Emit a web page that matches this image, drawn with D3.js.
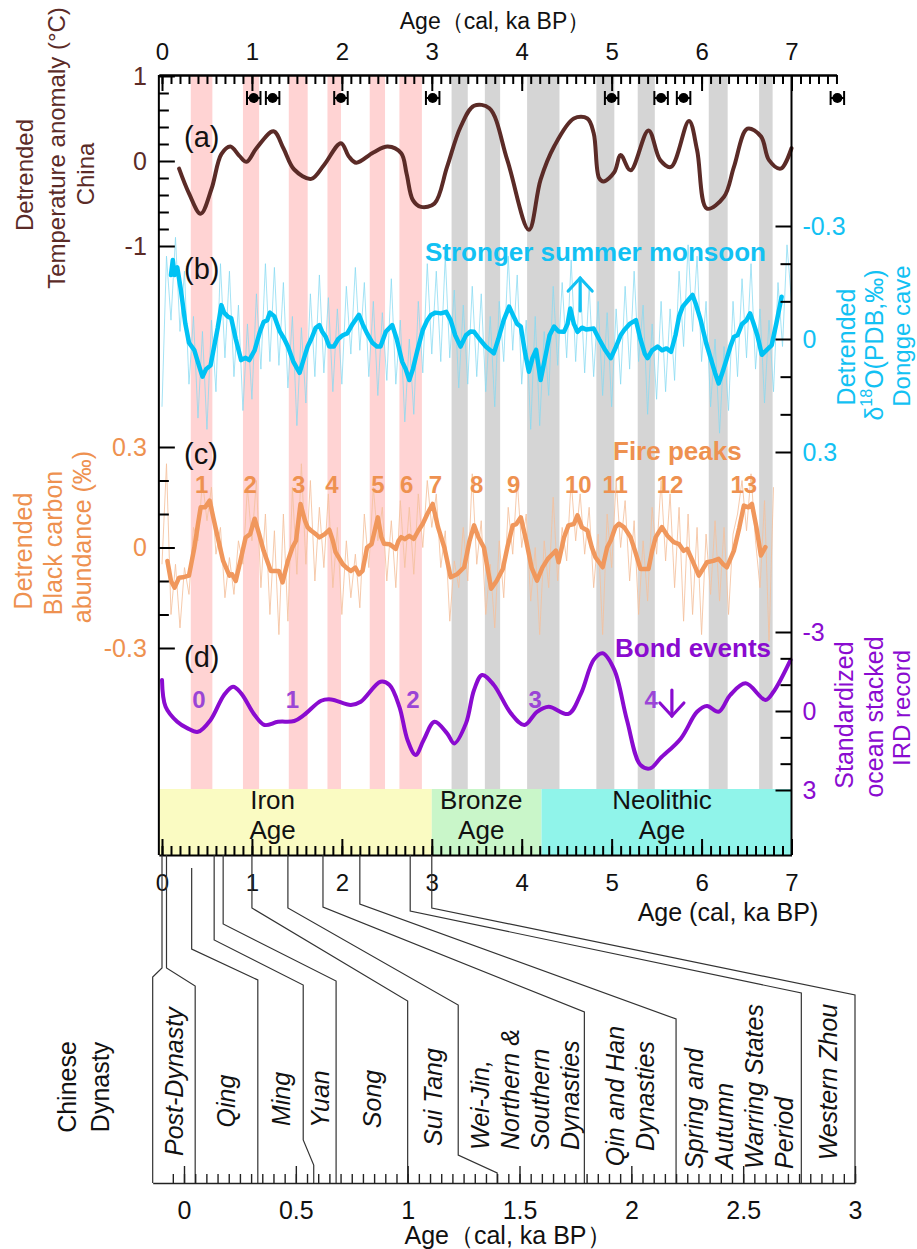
<!DOCTYPE html>
<html><head><meta charset="utf-8">
<script src="https://cdn.jsdelivr.net/npm/d3@7"></script>
<style>
html,body{margin:0;padding:0;background:#fff;}
svg{display:block;font-family:"Liberation Sans",Arial,Helvetica,sans-serif;}
</style></head><body>
<svg id="chart" width="917" height="1249"></svg>
<script>
// ---------- data (ages in ka BP) ----------
const warmBands = [[0.32,0.56],[0.90,1.08],[1.41,1.62],[1.84,1.99],[2.31,2.48],[2.64,2.89]];
const coolBands = [[3.22,3.40],[3.59,3.76],[4.06,4.42],[4.83,5.03],[5.29,5.48],[6.08,6.29],[6.64,6.79]];
const agePeriods = ["Iron Age","Bronze Age","Neolithic Age"];
const agePeriodBounds = [[-0.035,3.0],[3.0,4.22],[4.22,7.0]];

const datingAges = [1.02,1.23,1.99,3.01,5.0,5.55,5.8,7.51];
const datingErr  = [0.075,0.075,0.075,0.075,0.075,0.075,0.075,0.075];

// (a) detrended temperature anomaly, China (°C)
const tempAge = [0.19,0.30,0.43,0.55,0.66,0.76,0.86,0.94,1.05,1.24,1.35,1.47,1.66,1.80,1.99,2.08,2.16,2.35,2.51,2.66,2.72,2.79,2.88,3.03,3.17,3.32,3.47,3.64,3.84,4.08,4.21,4.36,4.58,4.73,4.80,4.86,4.91,5.03,5.10,5.21,5.41,5.54,5.66,5.86,5.95,6.06,6.25,6.36,6.51,6.66,6.75,6.88,7.00];
const tempVal = [-0.09,-0.38,-0.62,-0.33,0.08,0.17,0.06,-0.01,0.15,0.35,0.15,-0.10,-0.21,-0.05,0.21,0.05,-0.02,0.10,0.17,0.09,-0.15,-0.46,-0.54,-0.50,-0.07,0.40,0.65,0.62,0.01,-0.81,-0.22,0.17,0.50,0.50,0.33,-0.20,-0.24,-0.13,0.07,-0.11,0.36,0.01,-0.07,0.47,0.13,-0.56,-0.42,-0.07,0.38,0.29,0.01,-0.09,0.15];

// (b) detrended δ18O, Dongge cave (‰): raw record (0.05 ka step from 0) and running mean
const monsoonRawStep = 0.05;
const monsoonRaw = [0.18,-0.22,-0.05,-0.27,-0.02,-0.18,0.12,-0.06,0.21,-0.02,0.24,-0.05,0.14,-0.2,0.05,-0.18,0.1,-0.09,0.19,-0.04,
 0.16,-0.12,0.08,-0.2,0.06,-0.19,0.07,-0.15,0.13,-0.06,0.23,-0.03,0.17,-0.12,0.1,-0.17,0.09,-0.11,0.14,-0.08,
 0.12,-0.14,0.04,-0.19,0.03,-0.15,0.1,-0.1,0.15,-0.07,0.11,-0.16,0.12,-0.05,0.22,0.0,0.2,-0.1,0.09,-0.2,
 0.04,-0.18,0.06,-0.22,0.05,-0.13,0.13,-0.09,0.12,-0.14,0.1,-0.12,0.14,-0.06,0.18,-0.1,0.06,-0.22,0.03,-0.17,
 0.12,-0.05,0.24,-0.06,0.23,-0.02,0.15,-0.14,0.07,-0.15,0.05,-0.21,0.06,-0.16,0.09,-0.14,0.1,-0.1,0.15,-0.07,
 0.18,-0.08,0.12,-0.14,0.08,-0.18,0.06,-0.09,0.2,-0.04,0.16,-0.1,0.14,-0.08,0.11,-0.18,0.02,-0.25,-0.02,-0.22,
 0.06,-0.1,0.18,0.0,0.25,0.02,0.19,-0.1,0.1,-0.16,0.05,-0.2,0.08,-0.08,0.17,-0.05,0.14,-0.15,0.02,-0.25,-0.1];
const monsoonAge = [0.10,0.12,0.14,0.17,0.21,0.26,0.30,0.36,0.41,0.45,0.49,0.54,0.58,0.62,0.66,0.69,0.73,0.77,0.82,0.88,0.93,0.97,1.03,1.09,1.13,1.17,1.20,1.25,1.31,1.36,1.40,1.46,1.53,1.58,1.62,1.66,1.71,1.75,1.78,1.82,1.86,1.91,1.96,2.01,2.06,2.12,2.19,2.23,2.28,2.34,2.39,2.43,2.49,2.56,2.61,2.67,2.71,2.75,2.79,2.84,2.90,2.95,2.99,3.04,3.10,3.16,3.21,3.26,3.32,3.38,3.43,3.47,3.53,3.60,3.65,3.69,3.74,3.80,3.86,3.91,3.95,3.99,4.04,4.08,4.12,4.16,4.21,4.26,4.31,4.36,4.41,4.47,4.51,4.54,4.58,4.62,4.67,4.72,4.80,4.86,4.93,4.99,5.05,5.10,5.14,5.20,5.27,5.32,5.37,5.40,5.45,5.51,5.56,5.61,5.66,5.71,5.75,5.79,5.84,5.90,5.94,5.99,6.05,6.10,6.15,6.19,6.23,6.27,6.32,6.36,6.40,6.45,6.50,6.54,6.58,6.62,6.67,6.72,6.78,6.83,6.89];
const monsoonVal = [-0.17,-0.21,-0.17,-0.19,-0.13,-0.04,0.01,0.03,0.07,0.10,0.08,0.07,0.02,-0.03,-0.09,-0.07,-0.06,-0.055,0.0,0.056,0.05,0.056,0.03,-0.02,-0.045,-0.05,-0.07,-0.06,-0.02,0.0,0.02,0.06,0.09,0.05,0.02,0.0,-0.03,-0.037,-0.02,-0.006,0.02,0.02,0.0,-0.01,-0.015,-0.04,-0.064,-0.04,-0.015,0.01,0.02,0.02,-0.02,-0.037,0.0,0.06,0.08,0.109,0.08,0.03,-0.024,-0.05,-0.064,-0.07,-0.068,-0.072,-0.05,-0.01,0.02,-0.01,-0.02,-0.019,0.0,0.02,0.03,0.038,0.0,-0.05,-0.086,-0.06,-0.04,-0.033,0.04,0.087,0.05,0.029,0.109,0.05,-0.01,-0.033,-0.02,-0.019,-0.04,-0.081,-0.04,-0.019,-0.03,-0.025,-0.028,0.0,0.03,0.051,0.02,-0.01,-0.024,-0.04,-0.05,0.0,0.04,0.051,0.03,0.02,0.03,0.025,0.034,-0.01,-0.06,-0.086,-0.1,-0.117,-0.09,-0.05,0.01,0.05,0.09,0.118,0.09,0.06,0.02,-0.006,-0.01,-0.04,-0.05,-0.068,-0.04,-0.01,0.042,0.03,0.016,-0.04,-0.112];

// (c) detrended black carbon abundance (‰): raw record (0.05 ka step from 0) and running mean
const carbonRawStep = 0.05;
const carbonRaw = [-0.05,0.25,-0.2,-0.05,-0.24,-0.06,-0.14,0.06,0.02,0.2,0.08,0.18,-0.02,0.06,-0.15,-0.03,-0.14,0.02,-0.05,0.18,
 0.02,0.2,-0.12,0.1,-0.2,0.05,-0.26,0.1,-0.22,0.18,-0.08,0.25,-0.05,0.2,-0.1,0.12,-0.06,0.16,-0.12,0.06,
 -0.2,0.02,-0.15,-0.02,-0.18,0.1,-0.06,0.18,0.02,0.12,-0.1,0.08,-0.12,0.14,-0.06,0.12,-0.08,0.16,0.0,0.2,
 0.06,0.16,-0.06,0.05,-0.22,-0.04,-0.12,0.06,-0.1,0.22,-0.05,0.08,-0.2,-0.05,-0.24,0.02,-0.15,0.12,-0.02,0.2,
 0.0,0.1,-0.16,0.0,-0.26,0.02,-0.12,0.15,-0.1,0.06,-0.04,0.2,0.02,0.16,-0.02,0.12,-0.12,0.04,-0.26,0.1,
 -0.06,0.2,0.0,0.14,-0.1,0.08,-0.2,0.02,-0.16,0.12,-0.02,0.2,-0.04,0.16,-0.12,0.12,-0.22,0.1,-0.2,0.06,
 -0.26,0.04,-0.14,0.08,-0.16,0.06,-0.2,0.04,0.1,0.2,0.05,0.22,0.02,-0.12,0.14,-0.28,0.18];
const carbonAge = [0.06,0.10,0.14,0.19,0.23,0.30,0.36,0.40,0.43,0.48,0.53,0.57,0.62,0.68,0.75,0.78,0.82,0.88,0.93,0.98,1.03,1.08,1.13,1.17,1.21,1.25,1.30,1.34,1.40,1.45,1.49,1.54,1.59,1.62,1.66,1.71,1.75,1.81,1.86,1.90,1.93,2.01,2.05,2.10,2.15,2.19,2.23,2.28,2.33,2.40,2.44,2.47,2.53,2.60,2.63,2.66,2.70,2.75,2.80,2.85,2.90,2.95,3.01,3.07,3.14,3.21,3.28,3.36,3.42,3.47,3.52,3.58,3.66,3.72,3.79,3.84,3.90,3.94,3.99,4.05,4.11,4.17,4.23,4.29,4.34,4.38,4.41,4.47,4.52,4.58,4.62,4.67,4.73,4.78,4.82,4.90,4.95,4.99,5.04,5.08,5.14,5.21,5.26,5.32,5.41,5.45,5.49,5.56,5.62,5.69,5.75,5.80,5.84,5.90,5.97,6.06,6.13,6.19,6.24,6.28,6.36,6.42,6.47,6.52,6.56,6.61,6.66,6.71];
const carbonVal = [-0.04,-0.10,-0.12,-0.09,-0.089,-0.084,0.0,0.07,0.12,0.12,0.14,0.09,0.03,-0.04,-0.084,-0.08,-0.1,-0.03,0.03,0.04,0.086,0.04,-0.01,-0.04,-0.07,-0.07,-0.07,-0.104,-0.04,0.0,0.02,0.13,0.08,0.06,0.05,0.04,0.03,0.04,0.053,0.02,-0.014,-0.05,-0.06,-0.07,-0.06,-0.08,-0.07,0.0,0.01,0.09,0.03,0.011,0.01,-0.004,0.02,0.031,0.025,0.035,0.026,0.05,0.071,0.1,0.13,0.06,0.0,-0.089,-0.08,-0.059,0.02,0.066,0.03,0.0,-0.123,-0.1,-0.064,0.0,0.066,0.07,0.09,0.02,-0.06,-0.099,-0.06,-0.034,-0.02,-0.009,-0.044,0.03,0.066,0.07,0.096,0.06,0.051,0.0,-0.029,-0.059,0.0,0.021,0.06,0.071,0.06,0.031,-0.01,-0.064,-0.064,-0.01,0.031,0.061,0.035,0.016,0.01,-0.01,-0.004,-0.04,-0.084,-0.044,-0.04,-0.034,-0.05,-0.059,-0.009,0.06,0.125,0.12,0.13,0.06,-0.024,0.001];

// (d) standardized ocean stacked IRD record
const irdAge = [0.0,0.04,0.17,0.28,0.40,0.54,0.69,0.79,0.88,1.03,1.14,1.29,1.47,1.58,1.77,1.88,2.10,2.21,2.43,2.53,2.64,2.73,2.82,2.91,3.03,3.17,3.25,3.38,3.47,3.56,3.69,3.88,4.03,4.17,4.30,4.52,4.66,4.80,4.90,5.03,5.17,5.32,5.43,5.54,5.77,5.95,6.06,6.19,6.32,6.49,6.71,6.80,6.99];
const irdVal = [-1.18,-0.16,0.41,0.65,0.79,0.34,-0.61,-0.92,-0.67,0.15,0.53,0.41,0.38,0.15,-0.39,-0.44,-0.23,-0.35,-1.11,-0.99,-0.16,1.10,1.67,1.10,0.41,0.85,1.23,0.47,-0.80,-1.37,-0.99,0.09,0.53,0.03,-0.16,0.11,-0.67,-1.94,-2.19,-1.56,0.34,2.05,2.18,1.80,1.04,0.03,-0.19,0.03,-0.61,-1.05,-0.42,-0.73,-1.94];

const firePeakLabels = ["1","2","3","4","5","6","7","8","9","10","11","12","13"];
const firePeakAges = [0.44,0.98,1.52,1.89,2.40,2.72,3.04,3.50,3.91,4.63,5.04,5.65,6.47];
const bondLabels = ["0","1","2","3","4"];
const bondAges = [0.41,1.45,2.79,4.15,5.44];

// Chinese dynasties: names and older boundary of each (ka BP)
const dynastyLines = [["Post-Dynasty"],["Qing"],["Ming"],["Yuan"],["Song"],["Sui Tang"],
  ["Wei-Jin,","Northern &","Southern","Dynasties"],["Qin and Han","Dynasties"],
  ["Spring and","Autumn","Warring States","Period"],["Western Zhou"]];
const dynastyBounds = [0, 0.05,0.33,0.58,0.68,1.0,1.4,1.79,2.2,2.76,3.0];

// ---------- layout ----------
const svg = d3.select("#chart");
const F = "Liberation Sans, Arial, sans-serif";
const C = {brown:"#5b2b27", cyan:"#12c1f3", cyanLine:"#00c2f4", cyanRaw:"#86d9f2",
  orange:"#ee9150", orangeLine:"#f0975c", orangeRaw:"#f4c19e", purple:"#8a0bd0", purpleNum:"#9b45d6",
  pink:"#ffd3d3", gray:"#d5d5d5", periods:["#fafbc2","#c9f6c9","#90f4ea"]};

const X = d3.scaleLinear().domain([0,7]).range([162,791.5]);
const top0 = 75, bandTop = 789, bottom0 = 855;
const xLeft = X(-0.035), xRight = X(7);

const yT = d3.scaleLinear().domain([-1,1]).range([246,76]);
const yB = d3.scaleLinear().domain([-0.3,0.3]).range([226,452]);
const yC = d3.scaleLinear().domain([-0.3,0.3]).range([648,447]);
const yD = d3.scaleLinear().domain([-3,3]).range([632,790]);

// event bands
const gBands = svg.append("g");
gBands.selectAll("rect.w").data(warmBands).join("rect")
  .attr("x", d=>X(d[0])).attr("width", d=>X(d[1])-X(d[0]))
  .attr("y", top0).attr("height", bandTop-top0).attr("fill", C.pink);
gBands.selectAll("rect.c").data(coolBands).join("rect")
  .attr("x", d=>X(d[0])).attr("width", d=>X(d[1])-X(d[0]))
  .attr("y", top0).attr("height", bandTop-top0).attr("fill", C.gray);

// archaeological periods
const gPer = svg.append("g");
gPer.selectAll("rect").data(agePeriodBounds).join("rect")
  .attr("x", d=>X(d[0])).attr("width", d=>X(d[1])-X(d[0]))
  .attr("y", bandTop).attr("height", bottom0-bandTop).attr("fill", (d,i)=>C.periods[i]);
const periodLabelAt = [1.23, 3.55, 5.56];
agePeriods.forEach((name,i)=>{
  const words = name.split(" ");
  const t = svg.append("text").attr("x", X(periodLabelAt[i])).attr("text-anchor","middle")
    .attr("font-size",26).attr("fill","#111");
  t.append("tspan").attr("x", X(periodLabelAt[i])).attr("y", 809).text(words[0]);
  t.append("tspan").attr("x", X(periodLabelAt[i])).attr("y", 839).text(words[1]);
});

// raw records
const rawLine = (step, scale) => d3.line().x((d,i)=>X(i*step)).y(d=>scale(d));
svg.append("path").datum(monsoonRaw).attr("d", rawLine(monsoonRawStep, yB))
  .attr("fill","none").attr("stroke",C.cyanRaw).attr("stroke-width",1).attr("opacity",0.75);
svg.append("path").datum(carbonRaw).attr("d", rawLine(carbonRawStep, yC))
  .attr("fill","none").attr("stroke",C.orangeRaw).attr("stroke-width",1).attr("opacity",0.85);

// smoothed records
function series(ages, vals, scale, color, curve, w){
  const pts = ages.map((a,i)=>[a, vals[i]]);
  svg.append("path").datum(pts)
    .attr("d", d3.line().x(d=>X(d[0])).y(d=>scale(d[1])).curve(curve))
    .attr("fill","none").attr("stroke",color).attr("stroke-width",w)
    .attr("stroke-linejoin","round").attr("stroke-linecap","round");
}
series(tempAge, tempVal, yT, C.brown, d3.curveCatmullRom.alpha(0.5), 4);
series(monsoonAge, monsoonVal, yB, C.cyanLine, d3.curveLinear, 4.5);
series(carbonAge, carbonVal, yC, C.orangeLine, d3.curveLinear, 4.5);
series(irdAge, irdVal, yD, C.purple, d3.curveCatmullRom.alpha(0.5), 4);

// frame
svg.append("line").attr("x1",xLeft).attr("x2",xLeft).attr("y1",top0).attr("y2",bottom0).attr("stroke","#000").attr("stroke-width",2);
svg.append("line").attr("x1",xRight).attr("x2",xRight).attr("y1",top0).attr("y2",bottom0).attr("stroke","#000").attr("stroke-width",2);

function styleAxis(g, color, size){
  g.selectAll("path.domain").attr("stroke","#000").attr("stroke-width",2);
  g.selectAll(".tick line").attr("stroke","#000").attr("stroke-width",2);
  g.selectAll(".tick text").attr("fill",color).attr("font-size",size).attr("font-family",F);
}
const fmt = d => String(d);
const range = (a,b,s) => d3.range(Math.round((b-a)/s)+1).map(i=>+(a+i*s).toFixed(3));

// top age axis (extends to 7.5 ka)
const Xtop = d3.scaleLinear().domain([-0.035,7.5]).range([X(-0.035),X(7.5)]);
const gTopMinor = svg.append("g").attr("transform",`translate(0,${top0})`)
  .call(d3.axisTop(Xtop).tickValues(range(0,7.5,0.1)).tickSizeInner(-9).tickSizeOuter(0).tickFormat(""));
styleAxis(gTopMinor,"#000",24);
const gTop = svg.append("g").attr("transform",`translate(0,${top0})`)
  .call(d3.axisTop(Xtop).tickValues(range(0,7,1)).tickSizeInner(-16).tickSizeOuter(0).tickPadding(15).tickFormat(fmt));
styleAxis(gTop,"#111",24);
svg.append("text").attr("x",495).attr("y",29).attr("text-anchor","middle").attr("font-size",23).attr("fill","#111")
  .text("Age（cal, ka BP）");

// bottom age axis
const Xbot = d3.scaleLinear().domain([-0.035,7]).range([X(-0.035),X(7)]);
const gBotMinor = svg.append("g").attr("transform",`translate(0,${bottom0})`)
  .call(d3.axisBottom(Xbot).tickValues(range(0,7,0.1)).tickSizeInner(-9).tickSizeOuter(0).tickFormat(""));
styleAxis(gBotMinor,"#000",24);
const gBot = svg.append("g").attr("transform",`translate(0,${bottom0})`)
  .call(d3.axisBottom(Xbot).tickValues(range(0,7,1)).tickSizeInner(-16).tickSizeOuter(0).tickPadding(19).tickFormat(fmt));
styleAxis(gBot,"#111",24);
gBot.select("path.domain").remove(); gBotMinor.select("path.domain").attr("stroke-width",2);
svg.append("text").attr("x",728).attr("y",921).attr("text-anchor","middle").attr("font-size",25).attr("fill","#111")
  .text("Age (cal, ka BP)");

// left axes
function leftAxis(scale, major, minor, color){
  const g1 = svg.append("g").attr("transform",`translate(${xLeft},0)`)
    .call(d3.axisLeft(scale).tickValues(minor).tickSizeInner(-10).tickSizeOuter(0).tickFormat(""));
  g1.select("path.domain").remove(); styleAxis(g1,color,25);
  const g2 = svg.append("g").attr("transform",`translate(${xLeft},0)`)
    .call(d3.axisLeft(scale).tickValues(major).tickSizeInner(-16).tickSizeOuter(0).tickPadding(12).tickFormat(fmt));
  g2.select("path.domain").remove(); styleAxis(g2,color,25);
}
function rightAxis(scale, major, minor, color){
  const g1 = svg.append("g").attr("transform",`translate(${xRight},0)`)
    .call(d3.axisRight(scale).tickValues(minor).tickSizeInner(-11).tickSizeOuter(0).tickFormat(""));
  g1.select("path.domain").remove(); styleAxis(g1,color,25);
  const g2 = svg.append("g").attr("transform",`translate(${xRight},0)`)
    .call(d3.axisRight(scale).tickValues(major).tickSizeInner(-16).tickSizeOuter(0).tickPadding(11).tickFormat(fmt));
  g2.select("path.domain").remove(); styleAxis(g2,color,25);
}
leftAxis(yT, [-1,0,1], [-0.8,-0.6,-0.4,-0.2,0.2,0.4,0.6,0.8], C.brown);
leftAxis(yC, [-0.3,0,0.3], [-0.2,-0.1,0.1,0.2], C.orange);
rightAxis(yB, [-0.3,0,0.3], [-0.2,-0.1,0.1,0.2], C.cyan);
rightAxis(yD, [-3,0,3], [-2,-1,1,2], C.purple);

// dating control points
const gDate = svg.append("g").attr("stroke","#000").attr("stroke-width",2);
datingAges.forEach((a,i)=>{
  const y = 98;
  gDate.append("line").attr("x1",X(a-datingErr[i])).attr("x2",X(a+datingErr[i])).attr("y1",y).attr("y2",y);
  gDate.append("line").attr("x1",X(a-datingErr[i])).attr("x2",X(a-datingErr[i])).attr("y1",y-7).attr("y2",y+7);
  gDate.append("line").attr("x1",X(a+datingErr[i])).attr("x2",X(a+datingErr[i])).attr("y1",y-7).attr("y2",y+7);
  gDate.append("circle").attr("cx",X(a)).attr("cy",y).attr("r",5).attr("fill","#000").attr("stroke","none");
});

// rotated axis titles
function vtext(x, y, str, color, size, opts={}){
  const t = svg.append("text").attr("transform",`translate(${x},${y}) rotate(-90)`)
    .attr("text-anchor", opts.anchor || "middle").attr("dominant-baseline","central")
    .attr("font-size",size).attr("fill",color);
  if (opts.italic) t.attr("font-style","italic");
  return t.text(str);
}
vtext(24,175,"Detrended",C.brown,24);
vtext(56,148,"Temperature anomaly (°C)",C.brown,24);
vtext(85,174,"China",C.brown,24);
vtext(23,551,"Detrended",C.orange,25);
vtext(53,543,"Black carbon",C.orange,25);
vtext(82,537,"abundance (‰)",C.orange,25);
vtext(846,347,"Detrended",C.cyan,25);
{
  const t = svg.append("text").attr("transform","translate(874,345) rotate(-90)")
    .attr("text-anchor","middle").attr("dominant-baseline","central").attr("font-size",25).attr("fill",C.cyan);
  t.append("tspan").text("δ");
  t.append("tspan").attr("font-size",16).attr("dy",-8).text("18");
  t.append("tspan").attr("dy",8).text("O(PDB,‰)");
}
vtext(901,336,"Dongge cave",C.cyan,24);
vtext(844,715,"Standardized",C.purple,25);
vtext(874,717,"ocean stacked",C.purple,25);
vtext(901,708,"IRD record",C.purple,24);

// panel letters
[["(a)",147],["(b)",279],["(c)",464],["(d)",667]].forEach(([s,y])=>{
  svg.append("text").attr("x",184).attr("y",y).attr("font-size",29).attr("fill","#111").text(s);
});

// annotations
svg.append("text").attr("x",425).attr("y",261).attr("font-size",26).attr("font-weight","bold").attr("fill",C.cyan).text("Stronger summer monsoon");
svg.append("text").attr("x",613).attr("y",460).attr("font-size",26).attr("font-weight","bold").attr("fill",C.orange).text("Fire peaks");
svg.append("text").attr("x",615).attr("y",657).attr("font-size",26).attr("font-weight","bold").attr("fill",C.purple).text("Bond events");
function arrow(age, y1, y2, color){
  const x = X(age), dir = Math.sign(y2-y1);
  const g = svg.append("g").attr("stroke",color).attr("stroke-width",3.2).attr("fill","none").attr("stroke-linecap","round");
  g.append("line").attr("x1",x).attr("x2",x).attr("y1",y1).attr("y2",y2);
  g.append("path").attr("d",`M${x-12},${y2-dir*13} L${x},${y2} L${x+12},${y2-dir*13}`);
}
arrow(4.65, 311, 278, C.cyan);
arrow(5.67, 690, 716, C.purple);

svg.selectAll("text.fire").data(firePeakLabels).join("text").attr("class","fire")
  .attr("x",(d,i)=>X(firePeakAges[i])).attr("y",493).attr("text-anchor","middle")
  .attr("font-size",24).attr("font-weight","bold").attr("fill",C.orange).text(d=>d);
svg.selectAll("text.bond").data(bondLabels).join("text").attr("class","bond")
  .attr("x",(d,i)=>X(bondAges[i])).attr("y",708).attr("text-anchor","middle")
  .attr("font-size",24).attr("font-weight","bold").attr("fill",C.purpleNum).text(d=>d);

// ---------- dynasty chart ----------
const L = d3.scaleLinear().domain([0,3]).range([184,855]);
const axisY = 1183;
// connector geometry for each boundary: upper start, bend heights, optional jog near the bottom
const conn = [
  {top:855, b1:968, b2:977, lowerAt:-0.14},
  {top:855, b1:968, b2:986},
  {top:868, b1:949, b2:980},
  {top:855, b1:940, b2:985, jogAt:0.533, j1:1140, j2:1165},
  {top:855, b1:924, b2:981},
  {top:855, b1:908, b2:1001},
  {top:855, b1:908, b2:1005, jogAt:1.226, j1:1155, j2:1173},
  {top:855, b1:907, b2:1012},
  {top:855, b1:904, b2:1019},
  {top:855, b1:911, b2:993},
  {top:855, b1:908, b2:995}
];
const gDyn = svg.append("g").attr("fill","none").attr("stroke","#333").attr("stroke-width",1.2);
const lowerEdge = dynastyBounds.map((b,i)=>L(conn[i].lowerAt ?? conn[i].jogAt ?? b));
dynastyBounds.forEach((b,i)=>{
  const c = conn[i];
  const p = d3.path();
  p.moveTo(X(b), c.top); p.lineTo(X(b), c.b1); p.lineTo(lowerEdge[i], c.b2);
  if (c.jogAt !== undefined){ p.lineTo(lowerEdge[i], c.j1); p.lineTo(L(b), c.j2); p.lineTo(L(b), axisY); }
  else p.lineTo(lowerEdge[i], axisY);
  gDyn.append("path").attr("d", p.toString());
});
// lower axis
const Ldom = d3.scaleLinear().domain([-0.14,3]).range([L(-0.14),L(3)]);
const gLMinor = svg.append("g").attr("transform",`translate(0,${axisY})`)
  .call(d3.axisBottom(Ldom).tickValues(range(-0.05,3,0.05)).tickSizeInner(-9).tickSizeOuter(0).tickFormat(""));
styleAxis(gLMinor,"#000",25);
gLMinor.selectAll("path.domain, .tick line").attr("stroke","#222").attr("stroke-width",1.4);
const gL = svg.append("g").attr("transform",`translate(0,${axisY})`)
  .call(d3.axisBottom(Ldom).tickValues([0,0.5,1,1.5,2,2.5,3]).tickSizeInner(-17).tickSizeOuter(0).tickPadding(18).tickFormat(fmt));
styleAxis(gL,"#111",25);
gL.select("path.domain").remove();
gL.selectAll(".tick line").attr("stroke","#222").attr("stroke-width",1.4);
svg.append("text").attr("x",508).attr("y",1244).attr("text-anchor","middle").attr("font-size",25).attr("fill","#111")
  .text("Age（cal, ka BP）");

// dynasty labels
const labelPos = [
  {anchor:"start", y:1156},{anchor:"middle", y:1101},{anchor:"middle", y:1099},{anchor:"middle", y:1099},
  {anchor:"middle", y:1099},{anchor:"middle", y:1097},{anchor:"start", y:1150},{anchor:"middle", y:1096},
  {anchor:"start", y:1169},{anchor:"middle", y:1082}
];
dynastyLines.forEach((lines,i)=>{
  const cx = (lowerEdge[i] + lowerEdge[i+1]) / 2 + (i===6 ? 4 : 0);
  lines.forEach((s,k)=>{
    vtext(cx + (k-(lines.length-1)/2)*30, labelPos[i].y, s, "#111", 25, {anchor:labelPos[i].anchor, italic:true});
  });
});
vtext(67,1087,"Chinese","#111",25);
vtext(100,1087,"Dynasty","#111",25);
</script>
</body></html>
